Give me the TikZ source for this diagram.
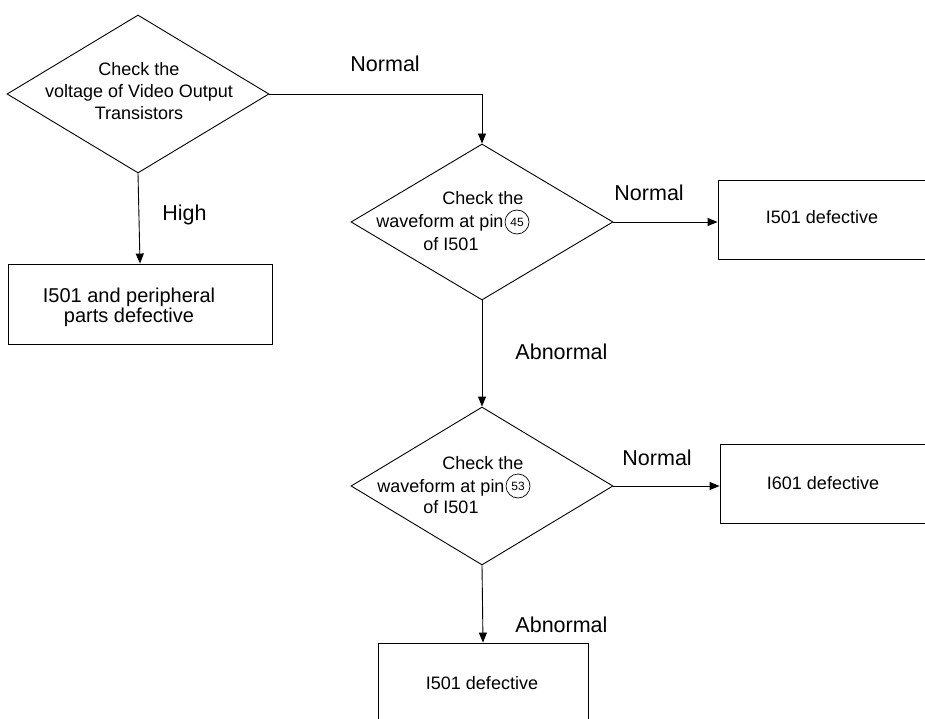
\documentclass[tikz,border=0pt]{standalone}
\usepackage{fontspec}
\setmainfont{Liberation Sans}
\usetikzlibrary{shapes.geometric,arrows.meta}
\begin{document}
\begin{tikzpicture}[x=1pt,y=-1pt,
  line width=0.9pt,
  dia/.style={draw,diamond,inner sep=0pt,minimum width=262pt,minimum height=158pt},
  box/.style={draw,rectangle,inner sep=0pt},
  body/.style={font=\fontsize{18}{22}\selectfont,inner sep=0pt},
  lbl/.style={font=\fontsize{21.5}{25}\selectfont,inner sep=0pt,anchor=base west},
  pinc/.style={draw,circle,minimum size=24pt,inner sep=0pt,line width=0.7pt,font=\fontsize{12}{12}\selectfont},
  arr/.style={-{Triangle[length=10pt,width=8pt]}}]
\useasboundingbox (0,0) rectangle (925,719);

% decision diamonds
\node[dia] (d1) at (138,94) {};
\node[dia,minimum height=156pt] (d2) at (482,222) {};
\node[dia] (d3) at (482,486) {};

% result boxes
\node[box,minimum width=264pt,minimum height=80pt] (b0) at (140,304) {};
\node[box,minimum width=210pt,minimum height=79pt] (b1) at (823,219.5) {};
\node[box,minimum width=208pt,minimum height=79pt] (b2) at (824,483.5) {};
\node[box,minimum width=210pt,minimum height=80pt] (b3) at (483,683) {};

% texts of the first diamond
\node[body,align=center] (d1t) at (139,91.5) {Check the\\voltage of Video Output\\Transistors};

% texts of the second diamond
\node[body,anchor=base] (d2a) at (483,205) {Check the};
\node[body,anchor=base] (d2b) at (440,228) {waveform at pin};
\node[body,anchor=base] (d2c) at (451,250) {of I501};
\node[pinc] (p45) at (517,222) {45};

% texts of the third diamond
\node[body,anchor=base] (d3a) at (483,469) {Check the};
\node[body,anchor=base] (d3b) at (441,492) {waveform at pin};
\node[body,anchor=base] (d3c) at (451,513) {of I501};
\node[pinc] (p53) at (518,486) {53};

% texts of the boxes
\node[body,font=\fontsize{20}{24}\selectfont,anchor=base] (b0t) at (129,302) {I501 and peripheral};
\node[body,font=\fontsize{20}{24}\selectfont,anchor=base] (b0u) at (129,322) {parts defective};
\node[body,anchor=base] (b1t) at (822,223) {I501 defective};
\node[body,anchor=base] (b2t) at (823,489) {I601 defective};
\node[body,anchor=base] (b3t) at (482,689) {I501 defective};

% connectors
\draw[arr] (d1.east) -| (d2.north);
\draw[arr] (d1.south) -- (b0.north);
\draw[arr] (d2.east) -- (d2.east -| b1.west);
\draw[arr] (d2.south) -- (d3.north);
\draw[arr] (d3.east) -- (d3.east -| b2.west);
\draw[arr] (d3.south) -- (b3.north);

% branch labels
\node[lbl] (l1) at (350,72) {Normal};
\node[lbl] (l2) at (162,221) {High};
\node[lbl] (l3) at (614,201) {Normal};
\node[lbl] (l4) at (515,359) {Abnormal};
\node[lbl] (l5) at (622,465) {Normal};
\node[lbl] (l6) at (515,632) {Abnormal};
\end{tikzpicture}
\end{document}
